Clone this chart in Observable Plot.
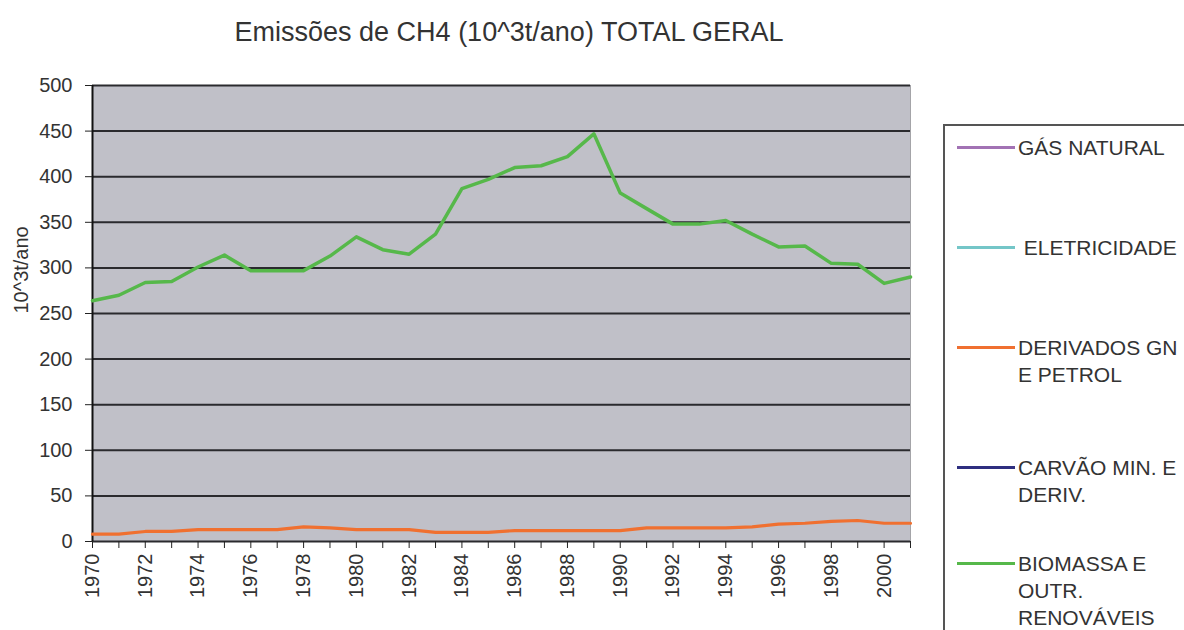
<!DOCTYPE html>
<html><head><meta charset="utf-8">
<script src="https://cdn.jsdelivr.net/npm/d3@7"></script>
<script src="https://cdn.jsdelivr.net/npm/@observablehq/plot@0.6"></script>
<style>
body{margin:0;background:#fff;font-family:"Liberation Sans",Arial,sans-serif;}
#wrap{position:relative;width:1184px;height:630px;overflow:hidden;}
#title{position:absolute;left:0;width:1018px;top:17px;text-align:center;font-size:27px;color:#333;white-space:nowrap;}
#legend{position:absolute;left:943px;top:124px;width:260px;height:540px;border:2px solid #555;box-sizing:border-box;background:#fff;}
.ltext{position:absolute;left:1018px;font-size:21px;line-height:27px;color:#333;white-space:pre;}
.lsample{position:absolute;left:957px;width:58px;height:3px;}
</style></head><body><div id="wrap"><div id="title"></div><div id="legend"></div></div>
<script>
const titleText = "Emissões de CH4 (10^3t/ano) TOTAL GERAL";
const yLabel = "10^3t/ano";
const years = [1970,1971,1972,1973,1974,1975,1976,1977,1978,1979,1980,1981,1982,1983,1984,1985,1986,1987,1988,1989,1990,1991,1992,1993,1994,1995,1996,1997,1998,1999,2000,2001];
const yTicks = [0,50,100,150,200,250,300,350,400,450,500];
const biomassa = [264,270,284,285,301,314,297,297,297,313,334,320,315,337,387,397,410,412,422,447,382,365,348,348,352,337,323,324,305,304,283,290];
const derivados = [8,8,11,11,13,13,13,13,16,15,13,13,13,10,10,10,12,12,12,12,12,15,15,15,15,16,19,20,22,23,20,20];
const legendNames = ["GÁS NATURAL", " ELETRICIDADE", "DERIVADOS GN\nE PETROL", "CARVÃO MIN. E\nDERIV.", "BIOMASSA E\nOUTR.\nRENOVÁVEIS"];
const legendColors = ["#a272b4", "#74c6c8", "#f07030", "#2e2f80", "#56b84a"];
const legendY = [147, 247, 347, 467, 563];

document.getElementById("title").textContent = titleText;

const rowsBio = years.map((yr, i) => ({year: yr, value: biomassa[i]}));
const rowsDer = years.map((yr, i) => ({year: yr, value: derivados[i]}));

const chart = Plot.plot({
  width: 1184, height: 630,
  marginLeft: 92, marginRight: 274, marginTop: 85, marginBottom: 89,
  style: {fontFamily: "Liberation Sans, Arial, sans-serif", fontSize: "20px", color: "#222", background: "transparent"},
  x: {type: "linear", domain: [1970, 2001]},
  y: {domain: [0, 500]},
  marks: [
    Plot.frame({fill: "#c0c0c8", stroke: "#a4a4a8"}),
    Plot.ruleY(yTicks, {stroke: "#2a2a2e", strokeWidth: 2}),
    Plot.ruleX([1970], {stroke: "#111", strokeWidth: 2}),
    Plot.line(rowsDer, {x: "year", y: "value", stroke: legendColors[2], strokeWidth: 3.2}),
    Plot.line(rowsBio, {x: "year", y: "value", stroke: legendColors[4], strokeWidth: 3.5}),
    Plot.axisY(yTicks, {tickSize: 7, tickPadding: 13, fontSize: 20, fill: "#333", label: null}),
    Plot.axisX(years, {tickSize: 7, tickPadding: 5, tickRotate: -90, fontSize: 20, fill: "#333", label: null,
      tickFormat: d => (d % 2 === 0 ? String(d) : "")}),
    Plot.text([yLabel], {frameAnchor: "left", dx: -71, rotate: -90, fontSize: 20, fill: "#333"})
  ]
});
const wrap = document.getElementById("wrap");
wrap.insertBefore(chart, wrap.firstChild);

legendNames.forEach((name, i) => {
  const s = document.createElement("div");
  s.className = "lsample";
  s.style.top = (legendY[i] - 1.5) + "px";
  s.style.background = legendColors[i];
  wrap.appendChild(s);
  const t = document.createElement("div");
  t.className = "ltext";
  t.style.top = (legendY[i] - 13) + "px";
  t.textContent = name;
  wrap.appendChild(t);
});
</script>
</body></html>
